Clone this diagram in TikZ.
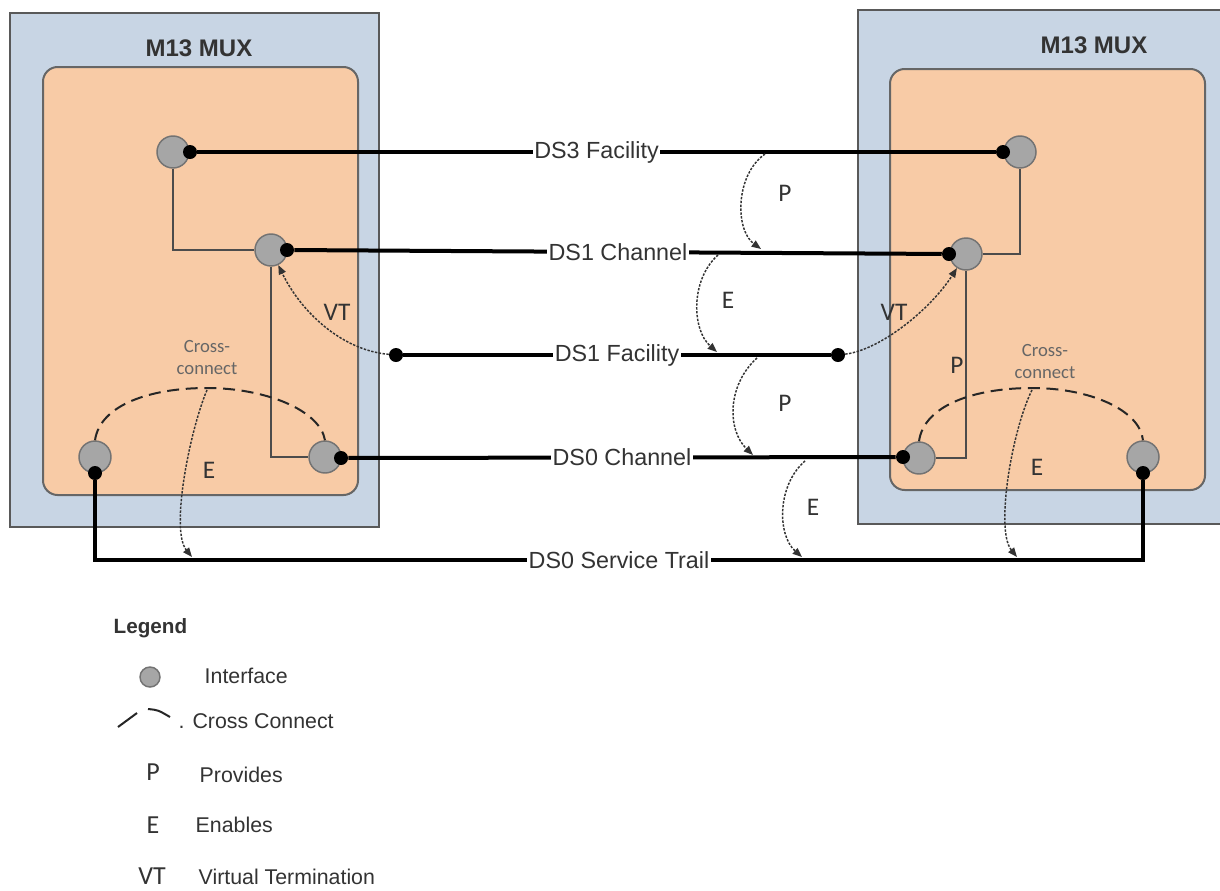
\documentclass[tikz,border=0pt]{standalone}
\usepackage{fontspec}
\setmainfont{Liberation Sans}
\newfontfamily\calfont{Carlito}
\usetikzlibrary{arrows.meta}
\definecolor{boxblue}{HTML}{C8D5E4}
\definecolor{peach}{HTML}{F8CBA6}
\definecolor{ifgray}{HTML}{A6A6A6}
\definecolor{txt}{HTML}{333333}
\begin{document}
\begin{tikzpicture}[x=0.75pt,y=-0.75pt,
  outer/.style={fill=boxblue,draw=black!65,line width=1.1pt},
  inner/.style={fill=peach,draw=black!60,line width=1.5pt,rounded corners=11pt},
  iface/.style={circle,fill=ifgray,draw=black!55,line width=1.1pt,minimum size=24pt,inner sep=0pt},
  bdot/.style={circle,fill=black,minimum size=10.5pt,inner sep=0pt},
  trail/.style={draw=black,line width=3pt},
  link/.style={draw=black!70,line width=1.1pt},
  lab/.style={fill=white,inner sep=1pt,text=txt,font=\fontsize{17.5}{20}\selectfont},
  rel/.style={draw=black!80,line width=1.1pt,dash pattern=on 1.8pt off 1.1pt,-{Triangle[length=7pt,width=5.5pt]}},
  rl/.style={text=txt,font=\calfont\fontsize{19}{22}\selectfont},
  xc/.style={draw=black!85,line width=1.5pt,dash pattern=on 9pt off 5pt},
  xcl/.style={text=black!60,align=center,font=\calfont\fontsize{14}{16.5}\selectfont},
  mux/.style={text=txt,font=\bfseries\fontsize{18}{20}\selectfont},
  leg/.style={text=txt,anchor=west,font=\fontsize{16}{18}\selectfont},
  legsym/.style={text=txt,font=\calfont\fontsize{19.5}{22}\selectfont}
]
\path[use as bounding box,fill=white] (0,0) rectangle (1220,890);

% boxes
\path[outer] (10,13) rectangle (379,527);
\path[inner] (43,67) rectangle (358,495);
\path[outer] (858,10) rectangle (1235,524);
\path[inner] (890,69) rectangle (1205,490);
\node[mux] (muxL) at (199,48) {M13 MUX};
\node[mux] (muxR) at (1094,45) {M13 MUX};

% interfaces
\node[iface] (L1) at (173,152) {};
\node[iface] (L2) at (271,250) {};
\node[iface] (L3) at (95,457) {};
\node[iface] (L4) at (325,457) {};
\node[iface] (R1) at (1020,152) {};
\node[iface] (R2) at (966,254) {};
\node[iface] (R3) at (919,458) {};
\node[iface] (R4) at (1143,457) {};

% internal links
\draw[link] (L1.south) |- (L2.west);
\draw[link] (L2.south) |- (L4.west);
\draw[link] (R1.south) |- (R2.east);
\draw[link] (R2.south) |- (R3.east);

% end dots
\node[bdot] (dL1) at (190,152) {};
\node[bdot] (dL2) at (287,250) {};
\node[bdot] (dL3) at (95,473) {};
\node[bdot] (dL4) at (341,458) {};
\node[bdot] (dR1) at (1003,152) {};
\node[bdot] (dR2) at (949,254) {};
\node[bdot] (dR3) at (903,457) {};
\node[bdot] (dR4) at (1143,473) {};
\node[bdot] (fL) at (396,355) {};
\node[bdot] (fR) at (838,355) {};

% trails
\draw[trail] (dL1) -- node[lab] {DS3 Facility} (dR1);
\draw[trail] (dL2) -- node[lab] {DS1 Channel} (dR2);
\draw[trail] (fL) -- node[lab] {DS1 Facility} (fR);
\draw[trail] (dL4) -- node[lab] {DS0 Channel} (dR3);
\coordinate (tl) at (95,560);
\coordinate (tr) at (1143,560);
\draw[trail] (dL3) -- (tl) -- node[lab] {DS0 Service Trail} (tr) -- (dR4);

% cross connects
\draw[xc] (L3.north) .. controls (100,405) and (150,388) .. (207,388)
  .. controls (265,388) and (320,410) .. (L4.north);
\draw[xc] (R3.north) .. controls (924,405) and (975,388) .. (1032,388)
  .. controls (1090,388) and (1140,410) .. (R4.north);
\node[xcl] (xclL) at (207,358) {Cross-\\connect};
\node[xcl] (xclR) at (1045,362) {Cross-\\connect};

% relation coordinates
\coordinate (p1s) at (765,154);
\coordinate (p1e) at (761,249);
\coordinate (e1s) at (718,255);
\coordinate (e1e) at (717,352);
\coordinate (p2s) at (757,358);
\coordinate (p2e) at (753,455);
\coordinate (e2s) at (805,461);
\coordinate (e2e) at (802,557);
\coordinate (ccL) at (207,390);
\coordinate (ccLe) at (192,557);
\coordinate (ccR) at (1032,390);
\coordinate (ccRe) at (1017,557);

\draw[rel] (p1s) .. controls (735,175) and (735,230) .. (p1e);
\draw[rel] (e1s) .. controls (690,280) and (692,330) .. (e1e);
\draw[rel] (p2s) .. controls (727,385) and (727,430) .. (p2e);
\draw[rel] (e2s) .. controls (777,485) and (777,535) .. (e2e);
\draw[rel] (ccL) .. controls (190,430) and (170,530) .. (ccLe);
\draw[rel] (ccR) .. controls (1012,430) and (995,530) .. (ccRe);
\draw[rel] (fL) .. controls (340,350) and (300,310) .. (L2);
\draw[rel] (fR) .. controls (880,350) and (930,310) .. (R2);

\node[rl] (lp1) at (785,193) {P};
\node[rl] (le1) at (728,300) {E};
\node[rl] (lp2) at (785,403) {P};
\node[rl] (le2) at (813,507) {E};
\node[rl] (lvtL) at (337,312) {VT};
\node[rl] (lvtR) at (894,312) {VT};
\node[rl] (leL) at (209,470) {E};
\node[rl] (leR) at (1037,467) {E};
\node[rl] (lpR) at (957,365) {P};

% legend
\node[text=txt,anchor=west,font=\bfseries\fontsize{15.5}{18}\selectfont] (legt) at (109,628) {Legend};
\node[iface,minimum size=15pt] (legif) at (150,677) {};
\node[leg] (legift) at (200,676) {Interface};
\draw[black!85,line width=1.5pt] (118,727) -- (137,713);
\draw[black!85,line width=1.5pt] (148,709) .. controls (158,710) .. (170,717);
\node[leg] (legxc) at (174,721) {. Cross Connect};
\node[legsym] (legp) at (153,772) {P};
\node[leg] (legpt) at (195,775) {Provides};
\node[legsym] (lege) at (153,825) {E};
\node[leg] (leget) at (191,825) {Enables};
\node[legsym] (legvt) at (152,876) {VT};
\node[leg] (legvtt) at (194,877) {Virtual Termination};
\end{tikzpicture}
\end{document}
